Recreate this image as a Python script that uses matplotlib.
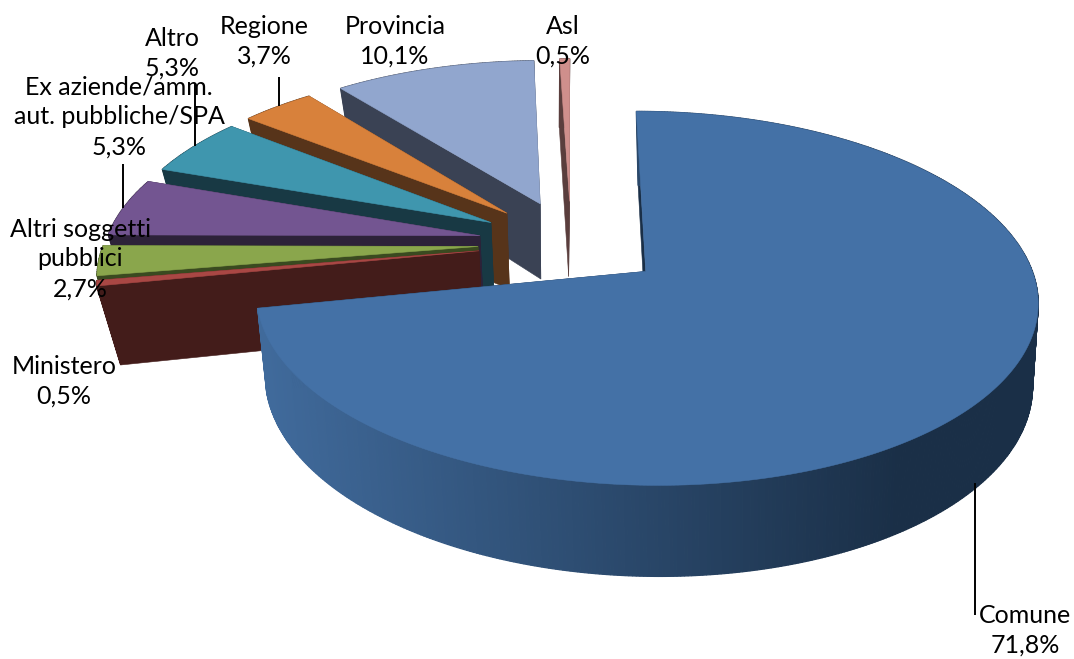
import matplotlib
matplotlib.use('Agg')
import matplotlib.pyplot as plt
import numpy as np

plt.rcParams['font.family'] = ['Lato', 'DejaVu Sans']

# slices clockwise from 12 o'clock
categories = ['Comune', 'Ministero', 'Altri soggetti\npubblici',
              'Ex aziende/amm.\naut. pubbliche/SPA', 'Altro', 'Regione',
              'Provincia', 'Asl']
values = [71.8, 0.5, 2.7, 5.3, 5.3, 3.7, 10.1, 0.5]

top_colors = ['#4471A6', '#A94744', '#8AA64C', '#735591', '#3F96AE', '#D8813B',
              '#91A6CE', '#CF8F8C']
wall_colors = ['#1A2F47', '#431C1A', '#3A4A20', '#2D2239', '#183944', '#57341A',
               '#3A4254', '#5A3E3D']

# label centres in pixels
label_pos = [(1025, 630), (64, 381), (80, 259), (119, 117), (172, 53), (264, 41),
             (395, 41), (563, 41)]
leaders = [(975, 483, 615), (279, 77, 106), (195, 84, 146), (123, 164, 208)]

explode = 0.246
explode_main = 0.25
radius = 0.99


# perspective of the top and bottom plane of the pie
def top_plane(u, v):
    w = 1 + 0.141 * v
    return 571 + 378 * u / w, 243 - 175 * v / w


def bottom_plane(u, v, main=False):
    w = 1 + 0.141 * v
    if main:
        return 574 + 371 * u / w, 323 - 183 * v / w
    return 570 + 358 * u / w, 320 - 183 * v / w


def poly(ax, xs, ys, color, lw=0.4):
    ax.fill(xs, ys, facecolor=color, edgecolor=color, linewidth=lw)


def wall_shade(x):
    # rim of the big slice gets darker to the right
    f = np.clip((x - 265) / (900 - 265), 0, 1)
    left = np.array([64, 106, 155])
    right = np.array([26, 47, 71])
    return tuple((left + (right - left) * f) / 255)


fig = plt.figure(figsize=(10.74, 6.59), dpi=100)
ax = fig.add_axes([0, 0, 1, 1])
ax.set_xlim(0, 1074)
ax.set_ylim(659, 0)
ax.axis('off')

edges = np.concatenate([[0], np.cumsum(values)]) / sum(values) * 2 * np.pi
slices = []
for i in range(len(values)):
    slices.append((edges[i], edges[i + 1], top_colors[i], wall_colors[i], i == 0))

# back to front: Asl first, Comune last
for start, end, top_c, wall_c, main in slices[::-1]:
    mid = (start + end) / 2
    e = explode_main if main else explode
    r = 1 if main else radius
    a = e * np.sin(mid)
    b = e * np.cos(mid)
    t = np.linspace(start, end, max(int((end - start) * 120), 6))
    u = a + r * np.sin(t)
    v = b + r * np.cos(t)
    tx, ty = top_plane(u, v)
    bx, by = bottom_plane(u, v, main)
    ax0, ay0 = top_plane(a, b)
    bx0, by0 = bottom_plane(a, b, main)

    # cut faces
    poly(ax, [tx[-1], ax0, bx0, bx[-1]], [ty[-1], ay0, by0, by[-1]], wall_c)
    poly(ax, [tx[0], ax0, bx0, bx[0]], [ty[0], ay0, by0, by[0]], wall_c)
    # rim
    for j in range(len(t) - 1):
        c = wall_shade(tx[j]) if main else wall_c
        poly(ax, [tx[j], tx[j + 1], bx[j + 1], bx[j]],
             [ty[j], ty[j + 1], by[j + 1], by[j]], c, lw=0.9)
    # top face
    poly(ax, np.r_[ax0, tx], np.r_[ay0, ty], top_c)

for x, y0, y1 in leaders:
    ax.plot([x, x], [y0, y1], color='black', linewidth=1.4, solid_capstyle='butt')

for name, val, (x, y) in zip(categories, values, label_pos):
    txt = name + '\n' + '{:.1f}%'.format(val).replace('.', ',')
    ax.text(x, y, txt, ha='center', va='center', fontsize=18, color='black',
            linespacing=1.35)

fig.savefig('out.png', dpi=100)
